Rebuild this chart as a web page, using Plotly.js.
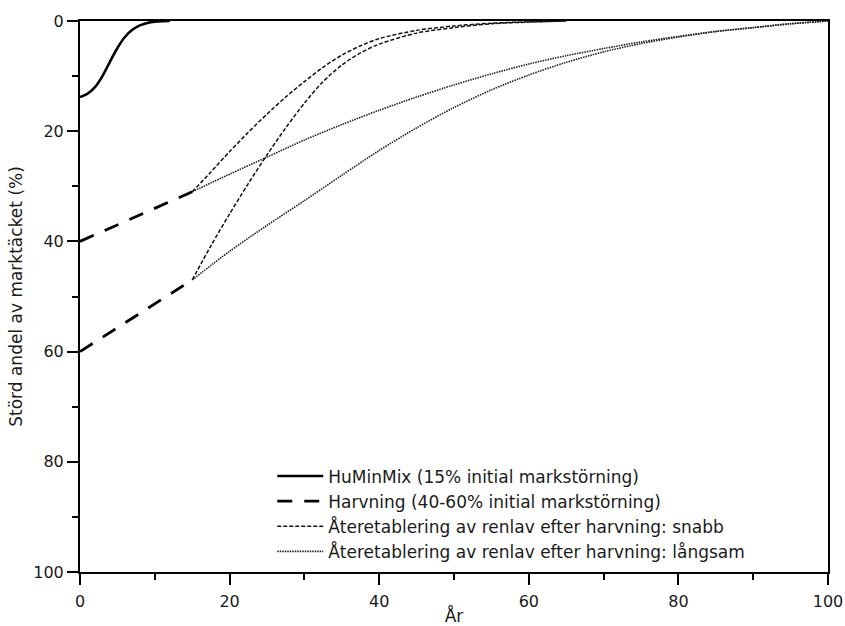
<!DOCTYPE html>
<html>
<head>
<meta charset="utf-8">
<script src="https://cdn.plot.ly/plotly-3.0.1.min.js"></script>
<style>html,body{margin:0;padding:0;background:#fff;}#chart{width:845px;height:626px;}</style>
</head>
<body>
<div id="chart"></div>
<script>
// HuMinMix (15% initial markstörning)
const huminYears = [0, 1, 2, 3, 4, 5, 6, 7, 8, 9, 10, 11, 12];
const huminValues = [13.8, 13.2, 12.0, 10.0, 7.4, 4.9, 2.9, 1.6, 0.8, 0.35, 0.12, 0.03, 0];

// Harvning (40-60% initial markstörning)
const harvYears = [0, 15];
const harvHigh = [40, 31];
const harvLow = [60, 47];

// Återetablering: snabb
const fastYears = [15, 17.5, 20, 22.5, 25, 27.5, 30, 32.5, 35, 37.5, 40, 45, 50, 55, 60, 65];
const fastHigh = [31, 27.4, 23.7, 20.2, 16.9, 13.8, 11.0, 8.4, 6.2, 4.5, 3.2, 1.7, 0.9, 0.4, 0.15, 0];
const fastLow  = [47, 40.8, 35.0, 29.5, 24.3, 19.4, 14.9, 11.0, 8.0, 5.8, 4.2, 2.2, 1.2, 0.5, 0.2, 0];

// Återetablering: långsam
const slowYears = [15, 20, 25, 30, 35, 40, 45, 50, 55, 60, 65, 70, 75, 80, 85, 90, 95, 100];
const slowHigh = [31, 27.8, 24.7, 21.6, 18.8, 16.2, 13.8, 11.6, 9.6, 7.8, 6.3, 5.0, 3.8, 2.8, 1.9, 1.2, 0.5, 0];
const slowLow  = [47, 41.8, 37.1, 32.6, 28.0, 23.5, 19.4, 15.7, 12.5, 9.8, 7.5, 5.6, 4.1, 2.9, 1.9, 1.2, 0.5, 0];

const legendNames = [
  'HuMinMix (15% initial markstörning)',
  'Harvning (40-60% initial markstörning)',
  'Återetablering av renlav efter harvning: snabb',
  'Återetablering av renlav efter harvning: långsam'
];

const styleHumin = {color: '#000', width: 2.6, dash: 'solid'};
const styleHarv = {color: '#000', width: 2.8, dash: '15px,12px'};
const styleFast = {color: '#111', width: 1.5, dash: '4px,2px'};
const styleSlow = {color: '#222', width: 1.6, dash: '1.5px,1px'};

function tr(x, y, name, line, show, group) {
  return {x: x, y: y, type: 'scatter', mode: 'lines', name: name, legendgroup: group,
          showlegend: show, line: Object.assign({shape: 'spline', smoothing: 0.8}, line), hoverinfo: 'skip'};
}

const traces = [
  tr(huminYears, huminValues, legendNames[0], styleHumin, true, 'a'),
  tr(harvYears, harvHigh, legendNames[1], styleHarv, true, 'b'),
  tr(harvYears, harvLow, legendNames[1], styleHarv, false, 'b'),
  tr(fastYears, fastHigh, legendNames[2], styleFast, true, 'c'),
  tr(fastYears, fastLow, legendNames[2], styleFast, false, 'c'),
  tr(slowYears, slowHigh, legendNames[3], styleSlow, true, 'd'),
  tr(slowYears, slowLow, legendNames[3], styleSlow, false, 'd')
];

const font = {family: 'DejaVu Sans, Liberation Sans, Arial, sans-serif', color: '#1a1a1a'};

const layout = {
  width: 845, height: 626,
  margin: {l: 80, r: 17, t: 21, b: 54},
  paper_bgcolor: '#fff', plot_bgcolor: '#fff',
  showlegend: true,
  font: Object.assign({size: 16}, font),
  xaxis: {
    range: [0, 100], tickvals: [0, 20, 40, 60, 80, 100], ticktext: ['0','20','40','60','80','100'],
    ticks: 'outside', ticklen: 11, tickwidth: 2, tickcolor: '#000',
    minor: {tickvals: [10, 30, 50, 70, 90], ticks: 'outside', ticklen: 6, tickwidth: 2, tickcolor: '#000'},
    showline: true, linewidth: 2, linecolor: '#000', mirror: true,
    showgrid: false, zeroline: false, ticklabelstandoff: 3,
    tickfont: Object.assign({size: 16}, font),
    title: {text: 'År', font: Object.assign({size: 17}, font), standoff: 5}
  },
  yaxis: {
    range: [100, 0], tickvals: [0, 20, 40, 60, 80, 100], ticktext: ['0','20','40','60','80','100'],
    ticks: 'outside', ticklen: 11, tickwidth: 2, tickcolor: '#000',
    minor: {tickvals: [10, 30, 50, 70, 90], ticks: 'outside', ticklen: 6, tickwidth: 2, tickcolor: '#000'},
    showline: true, linewidth: 2, linecolor: '#000', mirror: true,
    showgrid: false, zeroline: false,
    tickfont: Object.assign({size: 16}, font),
    title: {text: 'Störd andel av marktäcket (%)', font: Object.assign({size: 17}, font), standoff: 6}
  },
  legend: {
    x: 0.257, y: 0.206, xanchor: 'left', yanchor: 'top',
    bgcolor: 'rgba(0,0,0,0)', borderwidth: 0,
    font: Object.assign({size: 17}, font),
    itemwidth: 46, traceorder: 'normal'
  }
};

Plotly.newPlot('chart', traces, layout, {staticPlot: true});
</script>
</body>
</html>
